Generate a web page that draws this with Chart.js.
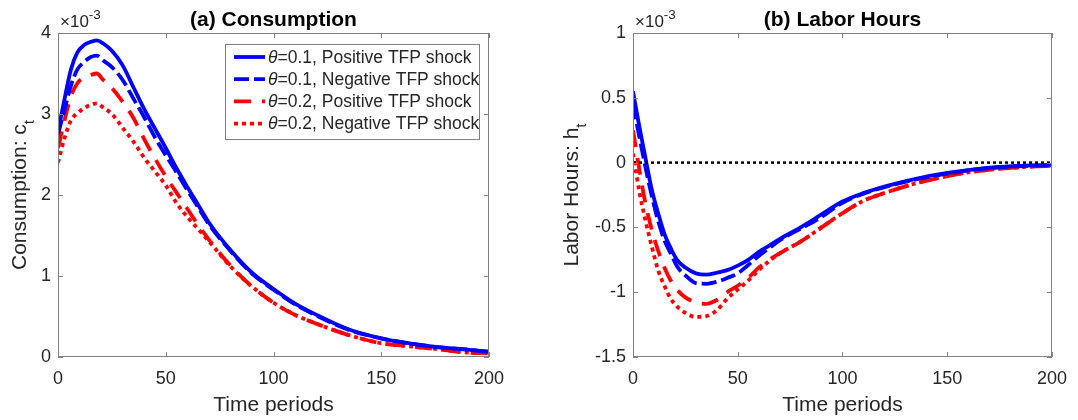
<!DOCTYPE html>
<html lang="en">

<head>
    <meta charset="utf-8">
    <title>Consumption and labor hours responses</title>
    <script src="https://cdn.jsdelivr.net/npm/chart.js@4.4.1/dist/chart.umd.min.js"></script>
    <style>
    body { margin: 0; background: #fff; }
    #wrap { position: relative; width: 1078px; height: 420px; }
    canvas { position: absolute; top: 0; }
    </style>
</head>

<body>
    <div id="wrap">
        <canvas id="cons" width="540" height="420" style="left:0"></canvas>
        <canvas id="hours" width="538" height="420" style="left:540px"></canvas>
    </div>
<script>
// time periods the curves were read at (x axis)
var periods = [0, 3, 6, 9, 12, 15, 18, 21, 25, 30, 35, 40, 45, 50, 55, 60, 65, 70, 80, 90, 100, 110, 120, 135, 150, 160, 175, 190, 200];

// consumption response, units of 1e-3
var consPos01 = [2.78, 3.18, 3.55, 3.76, 3.85, 3.89, 3.91, 3.87, 3.78, 3.60, 3.33, 3.06, 2.82, 2.58, 2.33, 2.10, 1.88, 1.66, 1.32, 1.04, 0.84, 0.66, 0.52, 0.34, 0.23, 0.18, 0.125, 0.09, 0.065];
var consNeg01 = [2.75, 3.05, 3.35, 3.55, 3.64, 3.70, 3.72, 3.66, 3.58, 3.42, 3.19, 2.96, 2.71, 2.49, 2.28, 2.06, 1.85, 1.64, 1.31, 1.03, 0.83, 0.65, 0.51, 0.335, 0.23, 0.18, 0.125, 0.09, 0.065];
var consPos02 = [2.58, 2.92, 3.22, 3.38, 3.45, 3.48, 3.50, 3.42, 3.32, 3.15, 2.95, 2.69, 2.45, 2.23, 2.03, 1.83, 1.63, 1.45, 1.13, 0.87, 0.67, 0.52, 0.41, 0.27, 0.17, 0.14, 0.10, 0.055, 0.045];
var consNeg02 = [2.40, 2.70, 2.92, 3.01, 3.07, 3.11, 3.13, 3.08, 3.00, 2.83, 2.66, 2.46, 2.29, 2.12, 1.90, 1.73, 1.58, 1.43, 1.12, 0.87, 0.67, 0.52, 0.41, 0.27, 0.17, 0.14, 0.10, 0.055, 0.045];

// labor hours response, units of 1e-3
var hoursPos01 = [0.55, 0.28, 0.03, -0.21, -0.39, -0.55, -0.66, -0.75, -0.81, -0.855, -0.865, -0.85, -0.83, -0.795, -0.75, -0.69, -0.64, -0.59, -0.50, -0.40, -0.30, -0.235, -0.185, -0.125, -0.08, -0.058, -0.034, -0.022, -0.018];
var hoursNeg01 = [0.45, 0.20, -0.04, -0.26, -0.45, -0.60, -0.70, -0.80, -0.87, -0.93, -0.935, -0.92, -0.89, -0.855, -0.79, -0.72, -0.66, -0.60, -0.51, -0.42, -0.31, -0.24, -0.19, -0.13, -0.085, -0.06, -0.036, -0.024, -0.02];
var hoursPos02 = [0.25, -0.05, -0.32, -0.52, -0.68, -0.81, -0.91, -0.98, -1.04, -1.08, -1.09, -1.06, -1.00, -0.95, -0.89, -0.81, -0.75, -0.70, -0.61, -0.50, -0.39, -0.295, -0.235, -0.16, -0.105, -0.075, -0.048, -0.03, -0.025];
var hoursNeg02 = [0.07, -0.22, -0.45, -0.65, -0.83, -0.95, -1.05, -1.11, -1.16, -1.19, -1.185, -1.14, -1.05, -0.98, -0.91, -0.83, -0.76, -0.70, -0.61, -0.50, -0.39, -0.295, -0.235, -0.16, -0.105, -0.075, -0.048, -0.03, -0.025];

var seriesLabels = ['θ=0.1, Positive TFP shock', 'θ=0.1, Negative TFP shock', 'θ=0.2, Positive TFP shock', 'θ=0.2, Negative TFP shock'];
var xTicks = [0, 50, 100, 150, 200];

var FONT = '"Liberation Sans", Arial, Helvetica, sans-serif';
var INK = '#262626';

function pts(vals) {
    return periods.map(function(t, i) { return { x: t, y: vals[i] }; });
}

function lineSet(label, vals, color, dash) {
    return {
        label: label,
        data: pts(vals),
        borderColor: color,
        borderWidth: 3.8,
        borderDash: dash,
        borderCapStyle: 'butt',
        pointRadius: 0,
        fill: false,
        cubicInterpolationMode: 'monotone'
    };
}

// box, inward ticks, titles, exponent, legend
var panelDecor = {
    id: 'panelDecor',
    afterDraw: function(chart, args, o) {
        var ctx = chart.ctx, a = chart.chartArea;
        var xs = chart.scales.x, ys = chart.scales.y;
        ctx.save();
        ctx.strokeStyle = '#808080';
        ctx.lineWidth = 1;
        ctx.strokeRect(a.left + 0.5, a.top + 0.5, a.right - a.left - 1, a.bottom - a.top - 1);
        ctx.beginPath();
        xs.ticks.forEach(function(t) {
            var p = Math.round(xs.getPixelForValue(t.value)) + 0.5;
            ctx.moveTo(p, a.bottom); ctx.lineTo(p, a.bottom - 5);
            ctx.moveTo(p, a.top); ctx.lineTo(p, a.top + 5);
        });
        ys.ticks.forEach(function(t) {
            var p = Math.round(ys.getPixelForValue(t.value)) + 0.5;
            ctx.moveTo(a.left, p); ctx.lineTo(a.left + 5, p);
            ctx.moveTo(a.right, p); ctx.lineTo(a.right - 5, p);
        });
        ctx.stroke();

        ctx.fillStyle = '#000';
        ctx.textAlign = 'center';
        ctx.textBaseline = 'alphabetic';
        ctx.font = 'bold 21px ' + FONT;
        ctx.fillText(o.title, (a.left + a.right) / 2, 26);

        ctx.fillStyle = INK;
        ctx.textAlign = 'left';
        ctx.font = '17px ' + FONT;
        ctx.fillText('×10', a.left + 2, 27);
        var w = ctx.measureText('×10').width;
        ctx.font = '13.5px ' + FONT;
        ctx.fillText('-3', a.left + 2 + w, 18.5);

        ctx.textAlign = 'center';
        ctx.font = '21px ' + FONT;
        ctx.fillText('Time periods', (a.left + a.right) / 2, 411);

        // y title with subscript
        ctx.save();
        ctx.translate(o.ylabelX, (a.top + a.bottom) / 2);
        ctx.rotate(-Math.PI / 2);
        ctx.textAlign = 'left';
        ctx.font = '21px ' + FONT;
        var mw = ctx.measureText(o.ylabel).width;
        ctx.font = '15px ' + FONT;
        var sw = ctx.measureText(o.sub).width;
        var x0 = -(mw + sw) / 2;
        ctx.font = '21px ' + FONT;
        ctx.fillText(o.ylabel, x0, 0);
        ctx.font = '15px ' + FONT;
        ctx.fillText(o.sub, x0 + mw, 8);
        ctx.restore();

        if (o.legend) {
            var L = { left: 225, top: 44, right: 479, bottom: 139 };
            ctx.fillStyle = '#fff';
            ctx.fillRect(L.left, L.top, L.right - L.left, L.bottom - L.top);
            ctx.strokeStyle = '#808080';
            ctx.strokeRect(L.left + 0.5, L.top + 0.5, L.right - L.left, L.bottom - L.top);
            chart.data.datasets.forEach(function(ds, i) {
                var y = 57 + i * 22.2;
                ctx.save();
                ctx.strokeStyle = ds.borderColor;
                ctx.lineWidth = ds.borderWidth;
                ctx.lineCap = 'butt';
                ctx.setLineDash(ds.borderDash || []);
                ctx.beginPath();
                ctx.moveTo(234, y); ctx.lineTo(265, y);
                ctx.stroke();
                ctx.restore();
                ctx.fillStyle = INK;
                ctx.textAlign = 'left';
                ctx.textBaseline = 'middle';
                ctx.font = 'italic 17.5px ' + FONT;
                ctx.fillText(ds.label.charAt(0), 268, y + 1);
                var tw = ctx.measureText(ds.label.charAt(0)).width;
                ctx.font = '17.5px ' + FONT;
                ctx.fillText(ds.label.slice(1), 268 + tw, y + 1);
            });
        }
        ctx.restore();
    }
};

function makeChart(id, datasets, yMin, yMax, yStep, areaLeft, padRight, decor) {
    return new Chart(document.getElementById(id), {
        type: 'line',
        data: { datasets: datasets },
        plugins: [panelDecor],
        options: {
            responsive: false,
            animation: false,
            events: [],
            layout: { padding: { top: 33, right: padRight, left: 0, bottom: 0 } },
            plugins: {
                legend: { display: false },
                tooltip: { enabled: false },
                panelDecor: decor
            },
            scales: {
                x: {
                    type: 'linear',
                    min: 0,
                    max: 200,
                    afterBuildTicks: function(s) { s.ticks = xTicks.map(function(v) { return { value: v }; }); },
                    afterFit: function(s) { s.height = 63; },
                    grid: { display: false, drawTicks: false },
                    border: { display: false },
                    ticks: { padding: 11, color: INK, font: { family: FONT, size: 18 }, maxRotation: 0,
                        callback: function(v) { return String(v); } }
                },
                y: {
                    min: yMin,
                    max: yMax,
                    afterFit: function(s) { s.width = areaLeft; },
                    grid: { display: false, drawTicks: false },
                    border: { display: false },
                    ticks: { stepSize: yStep, padding: 7, color: INK, font: { family: FONT, size: 18 },
                        callback: function(v) { return String(Math.round(v * 10) / 10); } }
                }
            }
        }
    });
}

makeChart('cons', [
    lineSet(seriesLabels[0], consPos01, '#0000ff', []),
    lineSet(seriesLabels[1], consNeg01, '#0000ff', [15, 5]),
    lineSet(seriesLabels[2], consPos02, '#ff0000', [17, 11]),
    lineSet(seriesLabels[3], consNeg02, '#ff0000', [4, 4])
], 0, 4, 1, 58, 51, { title: '(a) Consumption', ylabel: 'Consumption: c', sub: 't', ylabelX: 26, legend: true });

var zeroLine = {
    label: 'zero',
    data: [{ x: periods[0], y: 0 }, { x: periods[periods.length - 1], y: 0 }],
    borderColor: '#000',
    borderWidth: 2.5,
    borderDash: [3, 3],
    borderCapStyle: 'butt',
    pointRadius: 0
};

makeChart('hours', [
    zeroLine,
    lineSet(seriesLabels[0], hoursPos01, '#0000ff', []),
    lineSet(seriesLabels[1], hoursNeg01, '#0000ff', [15, 5]),
    lineSet(seriesLabels[2], hoursPos02, '#ff0000', [17, 11]),
    lineSet(seriesLabels[3], hoursNeg02, '#ff0000', [4, 4])
], -1.5, 1, 0.5, 93, 23, { title: '(b) Labor Hours', ylabel: 'Labor Hours: h', sub: 't', ylabelX: 38, legend: false });
</script>
</body>

</html>
